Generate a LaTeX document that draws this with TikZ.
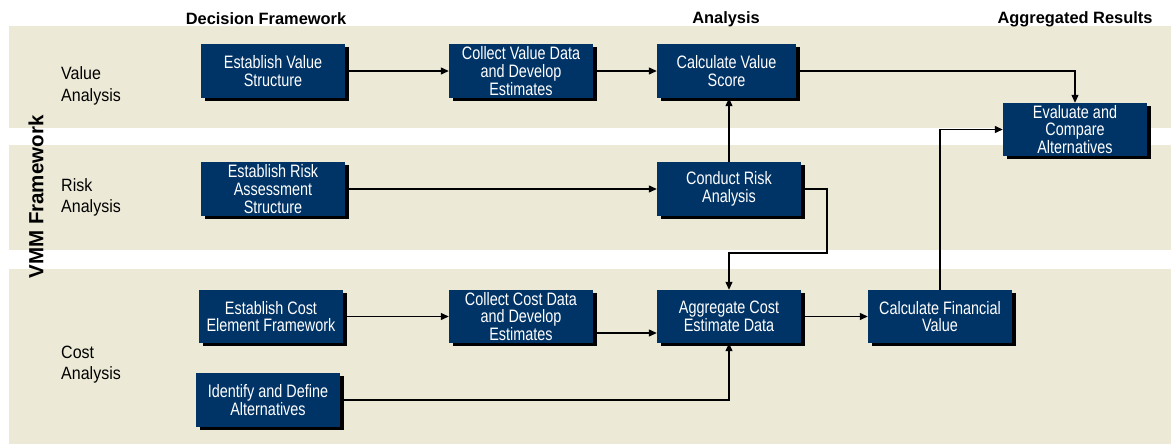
\documentclass[tikz,border=0pt]{standalone}
\usepackage{fontspec}
\setmainfont{Liberation Sans}
\newfontfamily\boxf[FakeStretch=0.8]{Liberation Sans}
\newfontfamily\rowf[FakeStretch=0.9]{Liberation Sans}
\usetikzlibrary{arrows.meta,shadows,calc}
\definecolor{navy}{RGB}{0,51,102}
\definecolor{band}{RGB}{236,234,215}
\tikzset{
  stepbox/.style={fill=navy,text=white,inner sep=0pt,align=center,
    minimum width=144pt,minimum height=54pt,
    font=\boxf\fontsize{18}{17.8}\selectfont,
    drop shadow={shadow xshift=4pt,shadow yshift=-3pt,opacity=1,fill=black}},
  hdr/.style={font=\bfseries\fontsize{16.4}{18}\selectfont,inner sep=0pt},
  rowlab/.style={font=\rowf\fontsize{17.8}{21.5}\selectfont,align=left,anchor=west,inner sep=0pt},
  conn/.style={line width=1.2pt,-{Triangle[length=8pt,width=7pt]}},
}
\begin{document}
\begin{tikzpicture}[x=1pt,y=-1pt]
\useasboundingbox (0,0) rectangle (1171,444);
% bands
\fill[band] (9,26) rectangle (1171,128);
\fill[band] (9,145) rectangle (1171,250);
\fill[band] (9,269) rectangle (1171,444);
% headers
\node[hdr] (h1) at (266,19) {Decision Framework};
\node[hdr] (h2) at (726,19) {Analysis};
\node[hdr] (h3) at (1075,19) {Aggregated Results};
% side title
\node[font=\bfseries\fontsize{20.5}{22}\selectfont,rotate=90,inner sep=0pt] (vmm) at (36,197) {VMM Framework};
% row labels
\node[rowlab] (rv) at (61,86) {Value\\Analysis};
\node[rowlab] (rr) at (61,197.5) {Risk\\Analysis};
\node[rowlab] (rc) at (61,364.5) {Cost\\Analysis};
% boxes
\node[stepbox] (evs) at (273,71) {Establish Value\\Structure};
\node[stepbox] (cvd) at (521,71) {Collect Value Data\\and Develop\\Estimates};
\node[stepbox,minimum width=139pt] (cvs) at (726.5,71) {Calculate Value\\Score};
\node[stepbox,minimum height=53pt] (eval) at (1075,129.5) {Evaluate and\\Compare\\Alternatives};
\node[stepbox] (ers) at (273,189) {Establish Risk\\Assessment\\Structure};
\node[stepbox] (cra) at (729,189) {Conduct Risk\\Analysis};
\node[stepbox,minimum height=53pt] (ece) at (271,316.5) {Establish Cost\\Element Framework};
\node[stepbox] (ida) at (268,400) {Identify and Define\\Alternatives};
\node[stepbox,minimum height=53pt] (ccd) at (521,316.5) {Collect Cost Data\\and Develop\\Estimates};
\node[stepbox,minimum height=53pt] (ace) at (729,316.5) {Aggregate Cost\\Estimate Data};
\node[stepbox,minimum height=53pt] (cfv) at (940,316.5) {Calculate Financial\\Value};
% helper coordinates
\coordinate (r1) at (827,253);
\coordinate (c8) at (600,333);
% connectors
\draw[conn] (evs.east) -- (cvd.west);
\draw[conn] (cvd.east) -- (cvs.west);
\draw[conn] (cvs.east) -| (eval.north);
\draw[conn] (cra.north) -- (cra.north |- cvs.south);
\draw[conn] (ers.east) -- (cra.west);
\draw[conn] (cra.east) -| (r1) -| (ace.north);
\draw[conn] (ece.east) -- (ccd.west);
\draw[conn] (c8 -| ccd.east) -- (c8 -| ace.west);
\draw[conn] (ida.east) -| (ace.south);
\draw[conn] (ace.east) -- (cfv.west);
\draw[conn] (cfv.north) |- (eval.west);
\end{tikzpicture}
\end{document}
